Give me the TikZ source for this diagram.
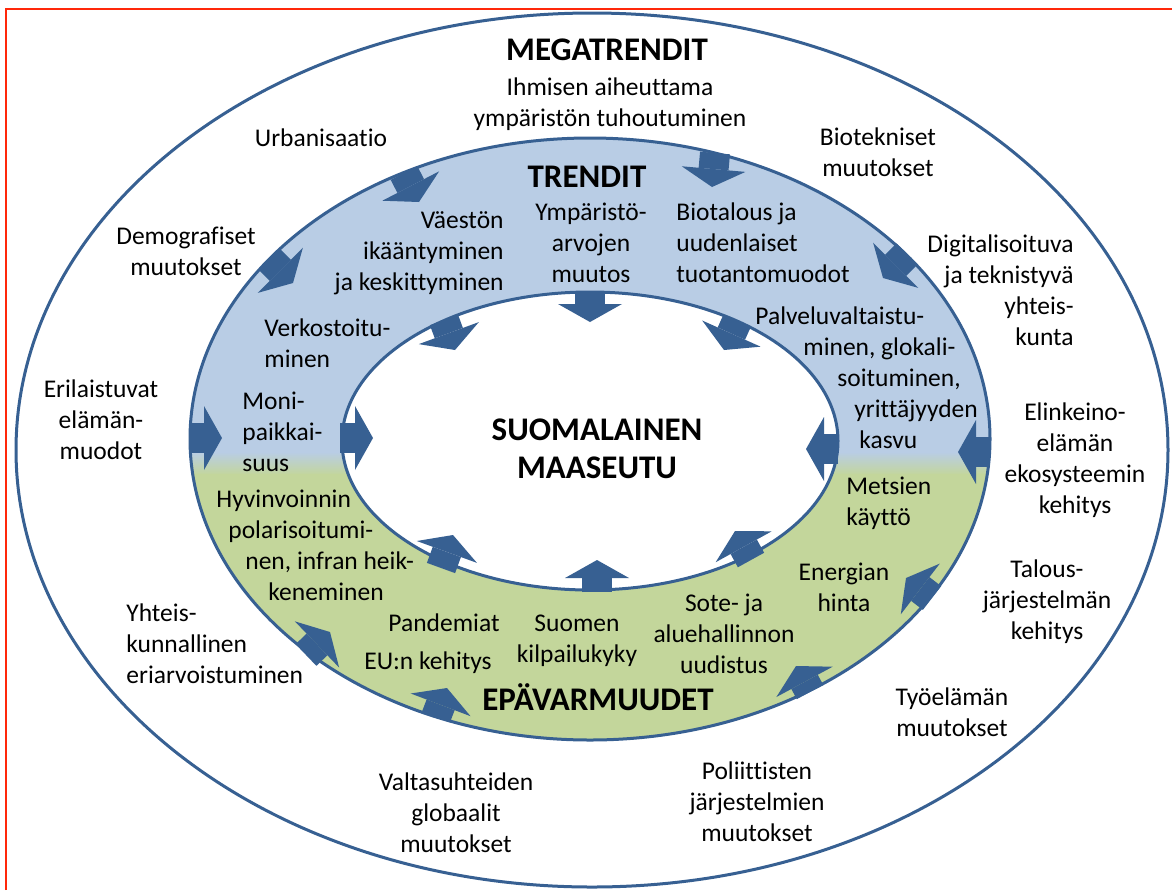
\documentclass[tikz,border=0pt]{standalone}
\usepackage{fontspec}
\setmainfont{Carlito}[Ligatures={NoCommon}]
\usetikzlibrary{arrows.meta}
\definecolor{ringBlue}{RGB}{55,96,146}
\definecolor{trendBlue}{RGB}{185,205,229}
\definecolor{riskGreen}{RGB}{195,214,155}
\definecolor{frameRed}{RGB}{255,40,10}
\newcommand{\bandfont}{\fontsize{12.75}{15.5}\selectfont}
\newcommand{\headfont}{\fontsize{16.5}{19}\selectfont\bfseries}

\begin{document}
\begin{tikzpicture}[
    x=0.5pt, y=-0.5pt,
    every node/.style={font=\bandfont, inner sep=0pt, text=black},
    lbl/.style={align=center},
    lblleft/.style={align=left, anchor=west},
    lblright/.style={align=right, anchor=east},
    heading/.style={font=\headfont, align=center},
    ring/.style={draw=ringBlue, line width=1.5pt},
    push/.style={draw=ringBlue, line width=15pt, -{Triangle[length=9pt, width=32pt, line width=0pt]}},
    redframe/.style={draw=frameRed, line width=1.2pt},
]
\useasboundingbox (0,0) rectangle (1172,890);
\draw[redframe] (6,890) -- (6,9) -- (1172,9);
% rings
\filldraw[ring, fill=white] (592,450) ellipse [x radius=576, y radius=437];
\begin{scope}
\clip (590,439) ellipse [x radius=400, y radius=301];
\fill[trendBlue] (180,130) rectangle (1000,453);
\shade[top color=trendBlue, bottom color=riskGreen] (180,452) rectangle (1000,475);
\fill[riskGreen] (180,474) rectangle (1000,750);
\end{scope}
\draw[ring] (590,439) ellipse [x radius=400, y radius=301];
\filldraw[ring, fill=white] (590,441) ellipse [x radius=248, y radius=149];
% arrows
\coordinate (O1a) at (404,173); \coordinate (O1b) at (419,202);
\coordinate (O2a) at (715,153); \coordinate (O2b) at (712,187);
\coordinate (O3a) at (269,259); \coordinate (O3b) at (293,283);
\coordinate (O4a) at (907,254); \coordinate (O4b) at (883,278);
\coordinate (O5a) at (190,438); \coordinate (O5b) at (222,438);
\coordinate (O6a) at (990,452); \coordinate (O6b) at (958,452);
\coordinate (O7a) at (306,655); \coordinate (O7b) at (330,632);
\coordinate (O8a) at (932,598); \coordinate (O8b) at (906,578);
\coordinate (O9a) at (436,717); \coordinate (O9b) at (447,688);
\coordinate (O10a) at (810,692); \coordinate (O10b) at (796,666);
\coordinate (I1a) at (590,292); \coordinate (I1b) at (590,322);
\coordinate (I2a) at (444,320); \coordinate (I2b) at (455,350);
\coordinate (I3a) at (737,321); \coordinate (I3b) at (724,350);
\coordinate (I4a) at (340,438); \coordinate (I4b) at (373,438);
\coordinate (I5a) at (441,568); \coordinate (I5b) at (453,535);
\coordinate (I6a) at (838,449); \coordinate (I6b) at (806,449);
\coordinate (I7a) at (597,592); \coordinate (I7b) at (597,560);
\coordinate (I8a) at (751,560); \coordinate (I8b) at (735,531);
\draw[push] (O1a) -- (O1b); \draw[push] (O2a) -- (O2b); \draw[push] (O3a) -- (O3b);
\draw[push] (O4a) -- (O4b); \draw[push] (O5a) -- (O5b); \draw[push] (O6a) -- (O6b);
\draw[push] (O7a) -- (O7b); \draw[push] (O8a) -- (O8b); \draw[push] (O9a) -- (O9b);
\draw[push] (O10a) -- (O10b);
\draw[push] (I1a) -- (I1b); \draw[push] (I2a) -- (I2b); \draw[push] (I3a) -- (I3b);
\draw[push] (I4a) -- (I4b); \draw[push] (I5a) -- (I5b); \draw[push] (I6a) -- (I6b);
\draw[push] (I7a) -- (I7b); \draw[push] (I8a) -- (I8b);
% megatrends
\node[heading] (MT) at (607,50) {MEGATRENDIT};
\node[lbl] (M1) at (610,104) {Ihmisen aiheuttama\\ympäristön tuhoutuminen};
\node[lbl] (M2) at (321,138) {Urbanisaatio};
\node[lbl] (M3) at (878,152) {Biotekniset\\muutokset};
\node[lbl] (M4) at (186,251) {Demografiset\\muutokset};
\node[lblright] (M5) at (1074,290) {Digitalisoituva\\ja teknistyvä\\yhteis-\\kunta};
\node[lbl] (M6) at (101,420) {Erilaistuvat\\elämän-\\muodot};
\node[lbl] (M7) at (1075,460) {Elinkeino-\\elämän\\ekosysteemin\\kehitys};
\node[lbl] (M8) at (1047,602) {Talous-\\järjestelmän\\kehitys};
\node[lblleft] (M9) at (126,644) {Yhteis-\\kunnallinen\\eriarvoistuminen};
\node[lbl] (M10) at (952,712) {Työelämän\\muutokset};
\node[lbl] (M11) at (456,813) {Valtasuhteiden\\globaalit\\muutokset};
\node[lbl] (M12) at (757,802) {Poliittisten\\järjestelmien\\muutokset};
% trends
\node[heading] (TR) at (587,177) {TRENDIT};
\node[lblright] (T1) at (504,253) {Väestön\\ikääntyminen\\ja keskittyminen};
\node[lbl] (T2) at (591,243) {Ympäristö-\\arvojen\\muutos};
\node[lblleft] (T3) at (676,243) {Biotalous ja\\uudenlaiset\\tuotantomuodot};
\node[lblleft] (T4) at (264,343) {Verkostoitu-\\minen};
\node[lblleft] (T5) at (242,432) {Moni-\\paikkai-\\suus};
\node[lblleft] (T6) at (755,378) {Palveluvaltaistu-\\\hspace*{24pt}minen, glokali-\\\hspace*{41pt}soituminen,\\\hspace*{49.5pt}yrittäjyyden\\\hspace*{52pt}kasvu};
% uncertainties
\node[heading] (EP) at (598,697) {EPÄVARMUUDET};
\node[lblleft] (U1) at (216,545) {Hyvinvoinnin\\\hspace*{6pt}polarisoitumi-\\\hspace*{14.5pt}nen, infran heik-\\\hspace*{26pt}keneminen};
\node[lbl] (U2) at (444,623) {Pandemiat};
\node[lbl] (U3) at (428,663) {EU:n kehitys};
\node[lbl] (U4) at (577,641) {Suomen\\kilpailukyky};
\node[lbl] (U5) at (724,634) {Sote- ja\\aluehallinnon\\uudistus};
\node[lbl] (U6) at (844,587) {Energian\\hinta};
\node[lblleft] (U7) at (846,503) {Metsien\\käyttö};
% core
\node[heading] (C) at (597,449) {SUOMALAINEN\\MAASEUTU};
\end{tikzpicture}
\end{document}
